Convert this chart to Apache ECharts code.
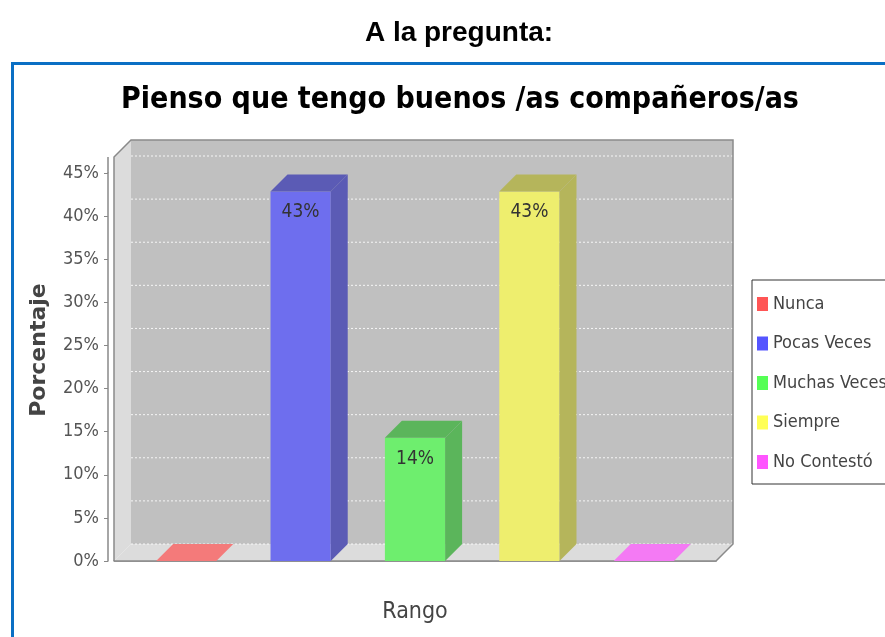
<!DOCTYPE html>
<html>
<head>
<meta charset="utf-8">
<script src="https://cdn.jsdelivr.net/npm/echarts@6/dist/echarts.min.js"></script>
<style>
  html, body { margin: 0; padding: 0; background: #fff; }
  #chart { width: 885px; height: 637px; }
</style>
</head>
<body>
<div id="chart"></div>
<script>
// datos
const categories = ['Rango'];
const seriesNames = ['Nunca', 'Pocas Veces', 'Muchas Veces', 'Siempre', 'No Contestó'];
const values = [0, 42.86, 14.29, 42.86, 0];
const legendColors = ['#ff5555', '#5555ff', '#55ff55', '#ffff55', '#ff55ff'];
const frontColors = ['#f47a7a', '#6e6eee', '#6eee6e', '#eeee6e', '#f47af4'];
const sideColors = ['#b55b5b', '#5b5bb5', '#5bb55b', '#b5b55b', '#b55bb5'];

const NARROW = "'Liberation Sans Narrow', 'DejaVu Sans Condensed', sans-serif";
const DEPTH = 17;
const EXTRA = 16;

(() => {
    window.addEventListener('load', () => {
        let chart = echarts.init(document.getElementById('chart'));

        // paredes del grafico 3D (fondo, lateral, suelo)
        let renderWalls = (params, api) => {
            let cs = params.coordSys;
            let x0 = cs.x, x1 = cs.x + cs.width;
            let yt = cs.y - EXTRA, y0 = cs.y + cs.height;
            let d = DEPTH;
            let children = [
                { type: 'rect', shape: { x: x0 + d, y: yt - d, width: x1 - x0, height: y0 - yt }, style: { fill: '#c0c0c0' } },
                { type: 'polygon', shape: { points: [[x0, y0], [x0, yt], [x0 + d, yt - d], [x0 + d, y0 - d]] }, style: { fill: '#dcdcdc' } },
                { type: 'polygon', shape: { points: [[x0, y0], [x0 + d, y0 - d], [x1 + d, y0 - d], [x1, y0]] }, style: { fill: '#dcdcdc' } }
            ];
            for (let v = 0; v <= 45; v += 5) {
                let y = api.coord([0, v])[1];
                children.push({ type: 'line', shape: { x1: x0 + d, y1: y - d, x2: x1 + d, y2: y - d },
                    style: { stroke: 'rgba(255,255,255,0.85)', lineWidth: 1, lineDash: [2, 2] } });
            }
            children.push({ type: 'polyline', shape: { points: [[x0, y0], [x0, yt], [x0 + d, yt - d], [x1 + d, yt - d], [x1 + d, y0 - d], [x1, y0], [x0, y0]] },
                style: { stroke: '#8a8a8a', fill: null, lineWidth: 1.5 } });
            // prolongacion del eje Y
            children.push({ type: 'line', shape: { x1: x0 - 6, y1: cs.y, x2: x0 - 6, y2: yt }, style: { stroke: '#888', lineWidth: 1.5 } });
            return { type: 'group', children: children };
        };

        let renderBar = (params, api) => {
            let slot = api.value(2);
            let val = api.value(1);
            let band = api.size([1, 0])[0];
            let base = api.coord([0, 0]);
            let top = api.coord([0, val]);
            let w = band * 0.1;
            let cx = base[0] + (slot - 2) * band * 0.19;
            let x = cx - w / 2;
            let yt = top[1], y0 = base[1];
            let d = DEPTH;
            let children = [];
            if (val > 0) {
                children.push({ type: 'rect', shape: { x: x, y: yt, width: w, height: y0 - yt }, style: { fill: frontColors[slot] } });
                children.push({ type: 'polygon', shape: { points: [[x + w, yt], [x + w + d, yt - d], [x + w + d, y0 - d], [x + w, y0]] }, style: { fill: sideColors[slot] } });
                children.push({ type: 'polygon', shape: { points: [[x, yt], [x + d, yt - d], [x + w + d, yt - d], [x + w, yt]] }, style: { fill: sideColors[slot] } });
                children.push({ type: 'text', x: cx, y: yt + 21, style: { text: Math.round(val) + '%', align: 'center', verticalAlign: 'middle',
                    fill: '#333', font: '19px ' + NARROW } });
            } else {
                children.push({ type: 'polygon', shape: { points: [[x, y0], [x + d, y0 - d], [x + w + d, y0 - d], [x + w, y0]] }, style: { fill: frontColors[slot] } });
            }
            return { type: 'group', children: children };
        };

        let series = [{
            type: 'custom',
            name: 'paredes',
            renderItem: renderWalls,
            data: [[0, 0]],
            clip: false,
            silent: true,
            z: 1
        }];
        seriesNames.forEach((name, i) => {
            series.push({
                type: 'custom',
                name: name,
                renderItem: renderBar,
                itemStyle: { color: legendColors[i] },
                data: [[0, values[i], i]],
                encode: { x: 0, y: 1 },
                clip: false,
                z: 2
            });
        });

        let option = {
            animation: false,
            title: [
                { text: 'A la pregunta:', left: 454, textAlign: 'center', top: 14,
                  textStyle: { fontFamily: "'Liberation Sans', Arial, sans-serif", fontWeight: 'bold', fontSize: 28, color: '#000' } },
                { text: 'Pienso que tengo buenos /as compañeros/as', left: 455, textAlign: 'center', top: 80,
                  textStyle: { fontFamily: NARROW, fontWeight: 'bold', fontSize: 30, color: '#000' } }
            ],
            graphic: [{
                type: 'rect', shape: { x: 12.5, y: 63.5, width: 1000, height: 1000 },
                style: { fill: null, stroke: '#0a6fc4', lineWidth: 3 }, silent: true
            }],
            legend: {
                data: seriesNames,
                orient: 'vertical',
                left: 752,
                top: 280,
                padding: [14, 14, 12, 5],
                itemGap: 19.5,
                itemWidth: 11,
                itemHeight: 14,
                icon: 'rect',
                borderColor: '#333',
                borderWidth: 1,
                textStyle: { fontFamily: NARROW, fontSize: 18, color: '#444', lineHeight: 20 }
            },
            grid: { left: 114, right: 169, top: 173, bottom: 76 },
            xAxis: {
                type: 'category',
                data: categories,
                offset: 8,
                name: 'Rango',
                nameLocation: 'middle',
                nameGap: 32,
                nameTextStyle: { fontFamily: NARROW, fontSize: 23, color: '#444' },
                axisLine: { lineStyle: { color: '#888', width: 1.5 } },
                axisTick: { alignWithLabel: true, length: 5, lineStyle: { color: '#888' } },
                axisLabel: { show: false },
                splitLine: { show: false }
            },
            yAxis: {
                type: 'value',
                min: 0,
                max: 45,
                interval: 5,
                offset: 6,
                name: 'Porcentaje',
                nameLocation: 'middle',
                nameGap: 58,
                nameTextStyle: { fontFamily: "'DejaVu Sans', sans-serif", fontWeight: 'bold', fontSize: 22, color: '#444', padding: [0, 0, 0, 34] },
                axisLine: { show: true, lineStyle: { color: '#888', width: 1.5 } },
                axisTick: { show: true, length: 4, lineStyle: { color: '#888' } },
                axisLabel: { formatter: '{value}%', margin: 9, fontFamily: NARROW, fontSize: 18, color: '#555' },
                splitLine: { show: false }
            },
            series: series
        };
        chart.setOption(option);
    });
})();
</script>
</body>
</html>
